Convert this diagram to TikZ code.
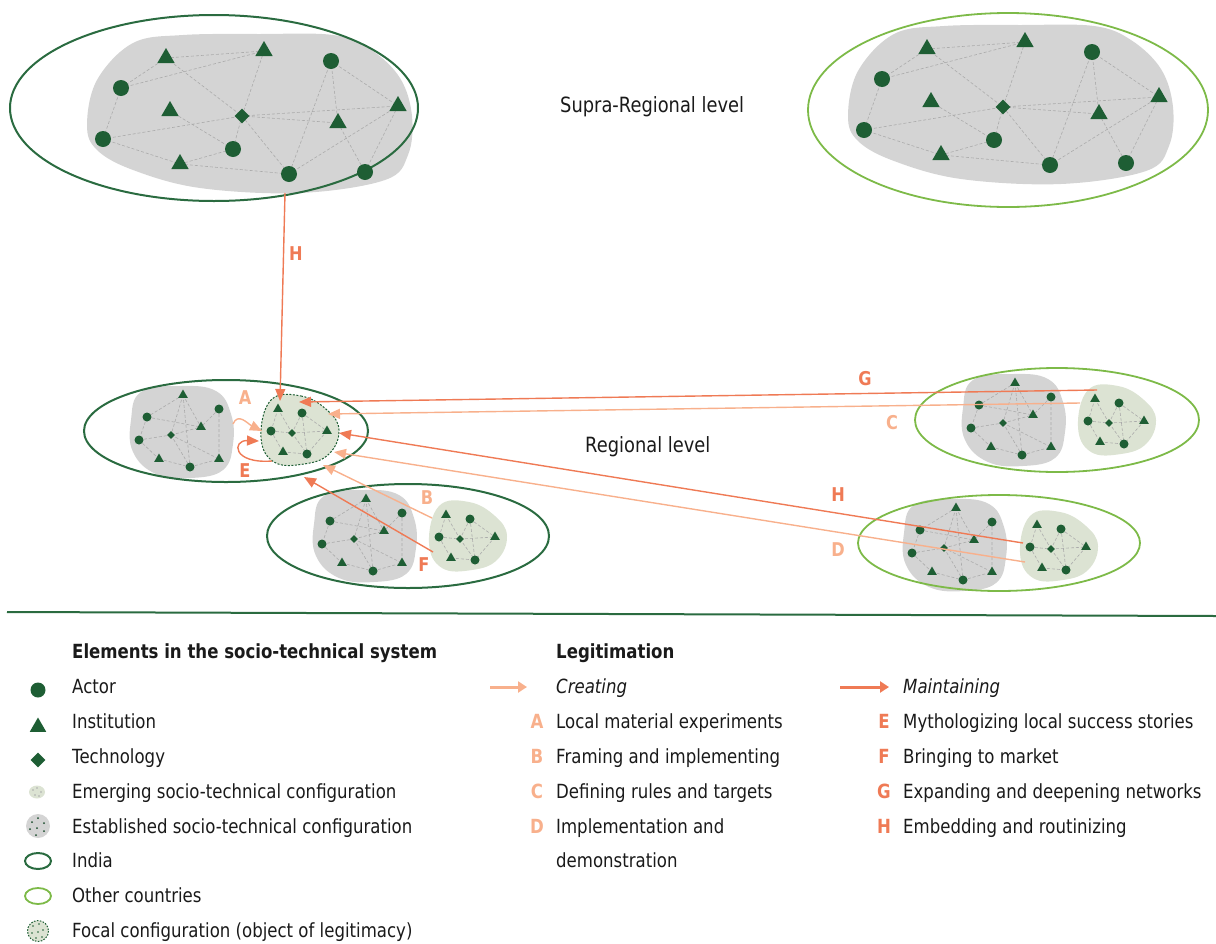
\documentclass[tikz,border=0pt]{standalone}
\usepackage{fontspec}
\setmainfont{DejaVu Sans}[FakeStretch=0.85]
\usetikzlibrary{shapes.geometric,arrows.meta}
\definecolor{dgreen}{HTML}{1E5E34}
\definecolor{indiag}{HTML}{2A6B40}
\definecolor{otherg}{HTML}{7DBA48}
\definecolor{blobgray}{HTML}{D4D4D4}
\definecolor{emerg}{HTML}{DCE3D3}
\definecolor{edgegray}{HTML}{ABABAB}
\definecolor{creat}{HTML}{F8B08C}
\definecolor{maint}{HTML}{EF7A55}
\definecolor{txtc}{HTML}{1A1A1A}
\pgfdeclarelayer{blobs}
\pgfdeclarelayer{nets}
\pgfsetlayers{blobs,nets,main}
\tikzset{
 bact/.style={circle,fill=dgreen,inner sep=0pt,minimum size=16pt},
 bins/.style={regular polygon,regular polygon sides=3,fill=dgreen,inner sep=0pt,minimum size=20pt},
 btech/.style={diamond,fill=dgreen,inner sep=0pt,minimum size=15pt},
 sact/.style={circle,fill=dgreen,inner sep=0pt,minimum size=9pt},
 sins/.style={regular polygon,regular polygon sides=3,fill=dgreen,inner sep=0pt,minimum size=11pt},
 stech/.style={diamond,fill=dgreen,inner sep=0pt,minimum size=8pt},
 netedge/.style={draw=edgegray,dash pattern=on 3pt off 2pt,line width=0.6pt},
 india/.style={draw=indiag,line width=2pt},
 other/.style={draw=otherg,line width=1.8pt},
 creatarrow/.style={draw=creat,line width=1.4pt,-{Triangle[length=12pt,width=10pt]}},
 maintarrow/.style={draw=maint,line width=1.4pt,-{Triangle[length=12pt,width=10pt]}},
 lbl/.style={font=\fontsize{19}{22}\selectfont\bfseries,inner sep=0pt},
 txt/.style={anchor=base west,inner sep=0pt,text=txtc},
 lett/.style={anchor=base,inner sep=0pt,font=\fontsize{19.5}{23}\selectfont\bfseries},
}
\newcommand\BigNet[3]{%
 \begin{scope}[shift={#1}]
 \begin{pgfonlayer}{blobs}
 \fill[blobgray] plot[smooth cycle,tension=0.6] coordinates {(-145,-36) (-109,-73) (-59,-81) (18,-82) (91,-81) (128,-67) (158,-38) (170,0) (166,39) (143,64) (58,77) (-42,72) (-109,54) (-145,34) (-155,9)};
 \end{pgfonlayer}
 \node[bins] (#2t1) at (-76,-58) {};
 \node[bins] (#2t2) at (22,-65) {};
 \node[bact] (#2c1) at (89,-55) {};
 \node[bact] (#2c2) at (-121,-28) {};
 \node[bins] (#2t3) at (-72,-5) {};
 \node[btech] (#2d) at (0,0) {};
 \node[bins] (#2t4) at (156,-10) {};
 \node[bins] (#2t5) at (96,7) {};
 \node[bact] (#2c3) at (-139,23) {};
 \node[bact] (#2c4) at (-9,33) {};
 \node[bins] (#2t6) at (-62,48) {};
 \node[bact] (#2c5) at (47,58) {};
 \node[bact] (#2c6) at (123,56) {};
 \begin{pgfonlayer}{nets}
 \draw[netedge] (#2t1.center)--(#2t2.center) (#2t1.center)--(#2c2.center) (#2c2.center)--(#2t2.center)
  (#2t1.center)--(#2d.center) (#2t2.center)--(#2d.center) (#2c1.center)--(#2t4.center)
  (#2c1.center)--(#2t5.center) (#2c1.center)--(#2c5.center) (#2c2.center)--(#2c3.center)
  (#2c3.center)--(#2d.center) (#2t3.center)--(#2c4.center) (#2d.center)--(#2c4.center)
  (#2d.center)--(#2t4.center) (#2d.center)--(#2t5.center) (#2d.center)--(#2c5.center)
  (#2c3.center)--(#2t6.center) (#2t6.center)--(#2c4.center) (#2t6.center)--(#2c5.center)
  (#2c5.center)--(#2t4.center) (#2t5.center)--(#2c6.center) (#2t4.center)--(#2c6.center);
 \end{pgfonlayer}
 \end{scope}}
\newcommand\EstNet[2]{%
 \begin{scope}[shift={#1}]
 \begin{pgfonlayer}{blobs}
 \fill[blobgray] plot[smooth cycle,tension=0.7] coordinates {(-40,-40) (0,-46) (35,-41) (50,-18) (52,12) (42,38) (10,46) (-25,42) (-48,20) (-50,-12)};
 \end{pgfonlayer}
 \node[sins] (#2t1) at (2,-37) {};
 \node[sact] (#2c1) at (-34,-15) {};
 \node[sact] (#2c2) at (38,-23) {};
 \node[sins] (#2t2) at (20,-5) {};
 \node[stech] (#2d) at (-10,3) {};
 \node[sact] (#2c3) at (-42,8) {};
 \node[sins] (#2t3) at (-22,27) {};
 \node[sact] (#2c4) at (9,35) {};
 \node[sins] (#2t4) at (38,27) {};
 \begin{pgfonlayer}{nets}
 \draw[netedge] (#2t1.center)--(#2c1.center) (#2t1.center)--(#2d.center) (#2t1.center)--(#2c4.center)
  (#2c1.center)--(#2t2.center) (#2c1.center)--(#2c3.center) (#2c2.center)--(#2t2.center)
  (#2c2.center)--(#2t4.center) (#2c3.center)--(#2d.center) (#2d.center)--(#2t2.center)
  (#2d.center)--(#2c4.center) (#2d.center)--(#2t4.center) (#2t3.center)--(#2c4.center)
  (#2c4.center)--(#2t4.center) (#2c3.center)--(#2t3.center) (#2t1.center)--(#2t2.center);
 \end{pgfonlayer}
 \end{scope}}
\newcommand\EmNet[3]{%
 \begin{scope}[shift={#1}]
 \begin{pgfonlayer}{blobs}
 \path[#3] plot[smooth cycle,tension=0.7] coordinates {(-28,-32) (2,-36) (28,-22) (40,-2) (30,22) (5,32) (-25,30) (-38,5)};
 \end{pgfonlayer}
 \node[sins] (#2t1) at (-21,-23) {};
 \node[sact] (#2c1) at (3,-19) {};
 \node[sact] (#2c2) at (-28,-1) {};
 \node[stech] (#2d) at (-7,1) {};
 \node[sins] (#2t2) at (28,-1) {};
 \node[sins] (#2t3) at (-16,20) {};
 \node[sact] (#2c3) at (8,22) {};
 \begin{pgfonlayer}{nets}
 \draw[netedge] (#2t1.center)--(#2c2.center) (#2t1.center)--(#2d.center) (#2c1.center)--(#2d.center)
  (#2c1.center)--(#2c3.center) (#2c2.center)--(#2d.center) (#2d.center)--(#2t2.center)
  (#2d.center)--(#2c3.center) (#2t3.center)--(#2c3.center) (#2c1.center)--(#2t2.center)
  (#2t2.center)--(#2c3.center) (#2c2.center)--(#2t3.center);
 \end{pgfonlayer}
 \end{scope}}
\begin{document}
\begin{tikzpicture}[x=1pt,y=-1pt,font=\fontsize{19.5}{23}\selectfont]
\useasboundingbox (0,0) rectangle (1216,943);

% ---------- supra-regional level ----------
\draw[india] (214,108) ellipse (204 and 93);
\BigNet{(242,116)}{L}{}
\draw[other] (1008,110) ellipse (200 and 97);
\BigNet{(1003,107)}{R}{}
\node[txt] (supra) at (560,112) {\fontsize{21}{24}\selectfont Supra-Regional level};

% ---------- regional level ----------
\draw[india] (226,431) ellipse (142 and 51);
\EstNet{(181,432)}{IA}
\EmNet{(299,432)}{FO}{fill=emerg,draw=dgreen,line width=1pt,dash pattern=on 2pt off 1.5pt}

\draw[india] (408,536) ellipse (141 and 52);
\EstNet{(364,536)}{IB}
\EmNet{(467,538)}{IC}{fill=emerg}

\draw[other] (1057,420) ellipse (142 and 52);
\EstNet{(1013,420)}{OA}
\EmNet{(1116,422)}{OB}{fill=emerg}

\draw[other] (999,543) ellipse (141 and 48);
\EstNet{(954,545)}{OC}
\EmNet{(1058,548)}{OD}{fill=emerg}

\node[txt] (regional) at (585,452) {\fontsize{21}{24}\selectfont Regional level};

% ---------- arrow end points ----------
\coordinate (hvS) at (285,193);
\coordinate (hvE) at (280,401);
\coordinate (gS) at (1097,390);
\coordinate (gE) at (299,402);
\coordinate (cS) at (1080,403);
\coordinate (cE) at (328,414);
\coordinate (hS) at (1023,543);
\coordinate (hE) at (339,433);
\coordinate (dS) at (1025,562);
\coordinate (dE) at (334,452);
\coordinate (bS) at (432,518);
\coordinate (bE) at (323,465);
\coordinate (fS) at (433,552);
\coordinate (fE) at (304,477);
\coordinate (aS) at (233,424);
\coordinate (aE) at (262,431);
\coordinate (eS) at (272,461);
\coordinate (eE) at (259,441);

\draw[maintarrow] (hvS) -- (hvE);
\draw[maintarrow] (gS) -- (gE);
\draw[creatarrow] (cS) -- (cE);
\draw[maintarrow] (hS) -- (hE);
\draw[creatarrow] (dS) -- (dE);
\draw[creatarrow] (bS) -- (bE);
\draw[maintarrow] (fS) -- (fE);
\draw[creatarrow] (aS) .. controls (238,412) and (248,424) .. (aE);
\draw[maintarrow] (eS) .. controls (232,464) and (232,440) .. (eE);

\node[lbl,text=maint] (lH1) at (296,254) {H};
\node[lbl,text=creat] (lA) at (245,398) {A};
\node[lbl,text=maint] (lE) at (245,471) {E};
\node[lbl,text=maint] (lG) at (865,379) {G};
\node[lbl,text=creat] (lC) at (892,423) {C};
\node[lbl,text=maint] (lH2) at (838,495) {H};
\node[lbl,text=creat] (lD) at (838,550) {D};
\node[lbl,text=creat] (lB) at (427,498) {B};
\node[lbl,text=maint] (lF) at (424,565) {F};

% ---------- separator ----------
\coordinate (sepL) at (7,612);
\coordinate (sepR) at (1216,616);
\draw[indiag,line width=2pt] (sepL) -- (sepR);

% ---------- legend: elements ----------
\node[txt,font=\fontsize{19.5}{23}\selectfont\bfseries] (hdElem) at (72,658) {Elements in the socio-technical system};
\node[circle,fill=dgreen,inner sep=0pt,minimum size=15pt] (lgAct) at (38,690) {};
\node[regular polygon,regular polygon sides=3,fill=dgreen,inner sep=0pt,minimum size=19pt] (lgIns) at (38,727) {};
\node[diamond,fill=dgreen,inner sep=0pt,minimum size=15pt] (lgTech) at (38,760) {};
\fill[emerg] (37,792) ellipse (8 and 6.5);
\fill[edgegray] (33,790) circle (0.8) (37,788) circle (0.8) (41,792) circle (0.8) (35,795) circle (0.8) (39,796) circle (0.8);
\fill[blobgray] (38,826) circle (12);
\fill[dgreen!80!black] (32,822) circle (1) (38,818) circle (1) (44,823) circle (1) (30,829) circle (1) (37,828) circle (1) (44,831) circle (1) (36,835) circle (1);
\draw[india] (38,861) ellipse (13 and 8);
\draw[other] (38,896) ellipse (13 and 8);
\draw[dgreen,fill=emerg,line width=1pt,dash pattern=on 1.6pt off 1.4pt] (38,931) circle (10.5);
\fill[dgreen] (33,926) circle (0.9) (39,924) circle (0.9) (43,930) circle (0.9) (32,933) circle (0.9) (38,932) circle (0.9) (42,937) circle (0.9) (36,938) circle (0.9);

\node[txt] (tAct) at (72,693) {Actor};
\node[txt] (tIns) at (72,728) {Institution};
\node[txt] (tTech) at (72,763) {Technology};
\node[txt] (tEm) at (72,798) {Emerging socio-technical configuration};
\node[txt] (tEst) at (72,833) {Established socio-technical configuration};
\node[txt] (tInd) at (72,867) {India};
\node[txt] (tOth) at (72,902) {Other countries};
\node[txt] (tFoc) at (72,937) {Focal configuration (object of legitimacy)};

% ---------- legend: legitimation ----------
\node[txt,font=\fontsize{19.5}{23}\selectfont\bfseries] (hdLeg) at (556,658) {Legitimation};
\coordinate (lcS) at (490,687);
\coordinate (lcE) at (527,687);
\draw[creat,line width=3pt,-{Triangle[length=9pt,width=11pt]}] (lcS) -- (lcE);
\node[txt] (tCre) at (556,693) {\itshape Creating};
\coordinate (lmS) at (840,687);
\coordinate (lmE) at (889,687);
\draw[maint,line width=3pt,-{Triangle[length=9pt,width=11pt]}] (lmS) -- (lmE);
\node[txt] (tMai) at (903,693) {\itshape Maintaining};

\node[lett,text=creat] (kA) at (537,728) {A};
\node[lett,text=creat] (kB) at (537,763) {B};
\node[lett,text=creat] (kC) at (537,798) {C};
\node[lett,text=creat] (kD) at (537,833) {D};
\node[txt] (tA) at (556,728) {Local material experiments};
\node[txt] (tB) at (556,763) {Framing and implementing};
\node[txt] (tC) at (556,798) {Defining rules and targets};
\node[txt] (tD) at (556,833) {Implementation and};
\node[txt] (tD2) at (556,867) {demonstration};

\node[lett,text=maint] (kE) at (884,728) {E};
\node[lett,text=maint] (kF) at (884,763) {F};
\node[lett,text=maint] (kG) at (884,798) {G};
\node[lett,text=maint] (kH) at (884,833) {H};
\node[txt] (tE) at (903,728) {Mythologizing local success stories};
\node[txt] (tF) at (903,763) {Bringing to market};
\node[txt] (tG) at (903,798) {Expanding and deepening networks};
\node[txt] (tH) at (903,833) {Embedding and routinizing};
\end{tikzpicture}
\end{document}
